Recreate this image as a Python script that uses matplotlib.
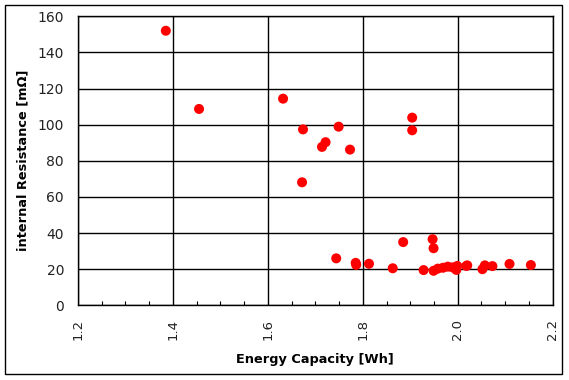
import matplotlib.pyplot as plt
from matplotlib.patches import Rectangle
from matplotlib.ticker import MultipleLocator

# energy capacity [Wh] vs internal resistance [mOhm]
capacity = [1.385, 1.455, 1.632, 1.674, 1.749, 1.7215, 1.714, 1.773, 1.672,
            1.904, 1.904, 1.744, 1.785, 1.786, 1.813, 1.863, 1.885, 1.947,
            1.949, 1.928, 1.949, 1.958, 1.969, 1.979, 1.989, 1.997, 1.999,
            2.018, 2.020, 2.052, 2.057, 2.073, 2.109, 2.154]
resistance = [152.0, 108.7, 114.4, 97.4, 98.9, 90.3, 87.7, 86.2, 68.1,
              103.9, 96.9, 26.0, 23.5, 22.4, 23.0, 20.5, 35.0, 36.6,
              31.6, 19.5, 19.1, 20.3, 20.8, 21.4, 21.0, 19.6, 21.8,
              21.8, 22.1, 20.0, 22.1, 21.7, 22.9, 22.3]

fig = plt.figure(figsize=(5.69, 3.80), dpi=100)
ax = fig.add_axes([78 / 569, 1 - 305.3 / 380, 474.7 / 569, 289 / 380])

ax.scatter(capacity, resistance, s=52, color='#ff0000', edgecolors='none', zorder=3)

ax.set_xlim(1.2, 2.2)
ax.set_ylim(0, 160)
ax.xaxis.set_major_locator(MultipleLocator(0.2))
ax.xaxis.set_minor_locator(MultipleLocator(0.05))
ax.yaxis.set_major_locator(MultipleLocator(20))
ax.grid(True, which='major', color='black', linewidth=1.0)
ax.set_axisbelow(True)

ax.set_xticklabels([f'{v:.1f}' for v in ax.get_xticks()], rotation=90)
ax.tick_params(axis='x', which='major', length=0, pad=10, labelsize=9.5, labelcolor='#222222')
ax.tick_params(axis='x', which='minor', direction='in', length=3, width=0.8)
ax.tick_params(axis='y', which='major', length=0, pad=10, labelsize=10, labelcolor='#222222')

for s in ax.spines.values():
    s.set_linewidth(1.0)

ax.set_xlabel('Energy Capacity [Wh]', fontsize=9.3, fontweight='bold', labelpad=9)
ax.set_ylabel('internal Resistance [mΩ]', fontsize=9.3, fontweight='bold', labelpad=6)

# chart-area frame
fig.patches.append(Rectangle((5 / 569, 6 / 380), 557 / 569, 369 / 380,
                             transform=fig.transFigure, fill=False,
                             edgecolor='black', linewidth=1.0))

fig.savefig('out.png', dpi=100)
